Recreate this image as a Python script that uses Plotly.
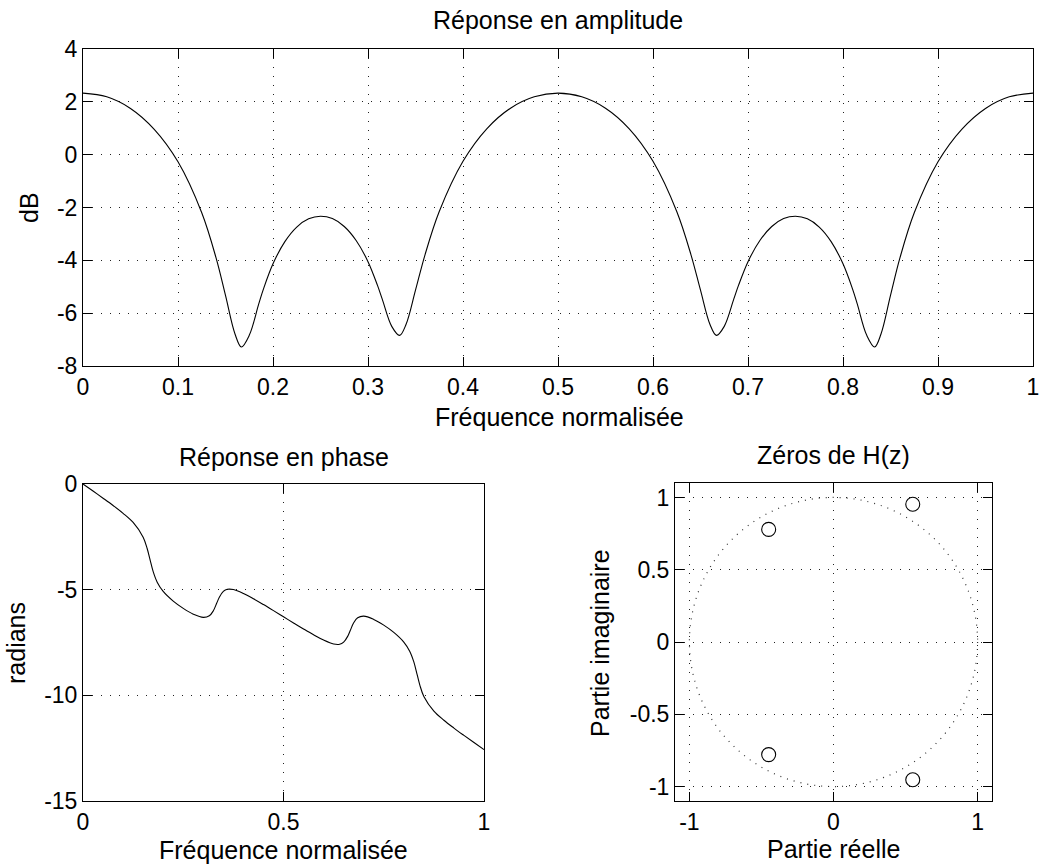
import plotly.graph_objects as go

# ---------------- data ----------------
freq_amp = [0, 0.025, 0.05, 0.075, 0.1, 0.125, 0.14, 0.15, 0.16, 0.1667, 0.175, 0.185, 0.19, 0.2,
            0.2125, 0.225, 0.2375, 0.25, 0.2625, 0.275, 0.2875, 0.3, 0.31, 0.315, 0.325, 0.3333,
            0.34, 0.35, 0.36, 0.375, 0.4, 0.425, 0.45, 0.475, 0.5,
            0.525, 0.55, 0.575, 0.6, 0.625, 0.64, 0.65, 0.66, 0.6667, 0.675, 0.685, 0.69, 0.7,
            0.7125, 0.725, 0.7375, 0.75, 0.7625, 0.775, 0.7875, 0.8, 0.81, 0.815, 0.825, 0.8333,
            0.84, 0.85, 0.86, 0.875, 0.9, 0.925, 0.95, 0.975, 1.0]
amp_db = [2.33, 2.19, 1.75, 0.96, -0.27, -2.20, -3.90, -5.33, -6.79, -7.28, -6.84, -5.65, -5.08, -4.13,
          -3.29, -2.74, -2.43, -2.33, -2.42, -2.72, -3.25, -4.05, -4.95, -5.47, -6.50, -6.84,
          -6.43, -5.13, -3.79, -2.15, -0.25, 0.98, 1.76, 2.19, 2.33,
          2.19, 1.76, 0.98, -0.25, -2.15, -3.79, -5.13, -6.43, -6.84, -6.50, -5.47, -4.95, -4.05,
          -3.25, -2.72, -2.42, -2.33, -2.43, -2.74, -3.29, -4.13, -5.08, -5.65, -6.84, -7.28,
          -6.79, -5.33, -3.90, -2.20, -0.27, 0.96, 1.75, 2.19, 2.33]

freq_phase = [0, 0.025, 0.05, 0.075, 0.1, 0.125, 0.15, 0.16, 0.1667, 0.175, 0.185, 0.2, 0.225,
              0.25, 0.275, 0.3, 0.315, 0.325, 0.3333, 0.34, 0.35, 0.36, 0.375, 0.4, 0.425, 0.45,
              0.475, 0.5, 0.525, 0.55, 0.575, 0.6, 0.625, 0.64, 0.65, 0.66, 0.6667, 0.675, 0.685,
              0.7, 0.725, 0.75, 0.775, 0.8, 0.815, 0.825, 0.8333, 0.84, 0.85, 0.875, 0.9, 0.925,
              0.95, 0.975, 1.0]
phase_rad = [0, -0.333, -0.671, -1.017, -1.387, -1.820, -2.514, -3.053, -3.547, -4.149, -4.645,
             -5.085, -5.543, -5.887, -6.159, -6.312, -6.236, -5.999, -5.647, -5.355, -5.081, -4.983,
             -4.996, -5.179, -5.430, -5.706, -5.992, -6.283, -6.574, -6.860, -7.136, -7.387, -7.570,
             -7.583, -7.485, -7.211, -6.919, -6.567, -6.330, -6.254, -6.407, -6.679, -7.023, -7.481,
             -7.921, -8.417, -9.019, -9.513, -10.052, -10.746, -11.179, -11.549, -11.896, -12.234,
             -12.566]

zeros_re = [0.55, 0.55, -0.45, -0.45]
zeros_im = [0.953, -0.953, 0.779, -0.779]

amp_xticks = [0, 0.1, 0.2, 0.3, 0.4, 0.5, 0.6, 0.7, 0.8, 0.9, 1]
amp_xlabels = ["0", "0.1", "0.2", "0.3", "0.4", "0.5", "0.6", "0.7", "0.8", "0.9", "1"]
amp_yticks = [4, 2, 0, -2, -4, -6, -8]
amp_ylabels = ["4", "2", "0", "-2", "-4", "-6", "-8"]
ph_xticks = [0, 0.5, 1]
ph_xlabels = ["0", "0.5", "1"]
ph_yticks = [0, -5, -10, -15]
ph_ylabels = ["0", "-5", "-10", "-15"]
z_xticks = [-1, 0, 1]
z_xlabels = ["-1", "0", "1"]
z_yticks = [1, 0.5, 0, -0.5, -1]
z_ylabels = ["1", "0.5", "0", "-0.5", "-1"]

# ---------------- figure ----------------
W, H = 1042, 868
FONT = "Liberation Sans, Arial, Helvetica, sans-serif"
TICK = 23
LAB = 25

fig = go.Figure()
fig.add_trace(go.Scatter(x=freq_amp, y=amp_db, mode="lines",
                         line=dict(color="black", width=1.1, shape="spline", smoothing=1.0),
                         xaxis="x", yaxis="y", showlegend=False, hoverinfo="skip"))
fig.add_trace(go.Scatter(x=freq_phase, y=phase_rad, mode="lines",
                         line=dict(color="black", width=1.1, shape="spline", smoothing=1.0),
                         xaxis="x2", yaxis="y2", showlegend=False, hoverinfo="skip"))
fig.add_trace(go.Scatter(x=zeros_re, y=zeros_im, mode="markers",
                         marker=dict(symbol="circle-open", size=14, color="black", line=dict(width=1.1)),
                         xaxis="x3", yaxis="y3", showlegend=False, hoverinfo="skip"))


def px(xp):
    return xp / W


def py(yp):
    return 1 - yp / H


axis_common = dict(showline=True, linecolor="black", linewidth=1, mirror="ticks", ticks="inside",
                   ticklen=9, tickcolor="black", tickwidth=1, showgrid=True, gridcolor="#222",
                   griddash="1px,8px", gridwidth=1, zeroline=False, tickmode="array",
                   automargin=False,
                   tickfont=dict(family=FONT, size=TICK, color="black"), fixedrange=True)

fig.update_layout(
    template="none",
    width=W, height=H, margin=dict(l=0, r=0, t=0, b=0, pad=0),
    paper_bgcolor="white", plot_bgcolor="white",
    font=dict(family=FONT, color="black"),
    xaxis=dict(axis_common, domain=[px(83), px(1033)], range=[0, 1], anchor="y",
               tickvals=amp_xticks, ticktext=amp_xlabels),
    yaxis=dict(axis_common, domain=[py(366), py(49)], range=[-8, 4], anchor="x",
               tickvals=amp_yticks, ticktext=amp_ylabels),
    xaxis2=dict(axis_common, domain=[px(83), px(484)], range=[0, 1], anchor="y2",
                tickvals=ph_xticks, ticktext=ph_xlabels),
    yaxis2=dict(axis_common, domain=[py(801), py(484)], range=[-15, 0], anchor="x2",
                tickvals=ph_yticks, ticktext=ph_ylabels),
    xaxis3=dict(axis_common, domain=[px(675), px(992)], range=[-1.1, 1.1], anchor="y3",
                tickvals=z_xticks, ticktext=z_xlabels),
    yaxis3=dict(axis_common, domain=[py(801), py(483)], range=[-1.1, 1.1], anchor="x3",
                tickvals=z_yticks, ticktext=z_ylabels),
)

# unit circle on the zeros plot
fig.add_shape(type="circle", xref="x3", yref="y3", x0=-1, y0=-1, x1=1, y1=1,
              line=dict(color="#333", width=1.2, dash="1px,6px"), layer="below")


def ann(text, x, y, angle=0, size=LAB):
    fig.add_annotation(text=text, x=px(x), y=py(y), xref="paper", yref="paper",
                       showarrow=False, textangle=angle, xanchor="center", yanchor="middle",
                       font=dict(family=FONT, size=size, color="black"))


ann("Réponse en amplitude", 558, 20)
ann("Fréquence normalisée", 559, 417)
ann("dB", 29, 208, -90)
ann("Réponse en phase", 283.5, 456.5)
ann("Fréquence normalisée", 283.5, 850)
ann("radians", 16, 643, -90)
ann("Zéros de H(z)", 833.5, 455.5)
ann("Partie réelle", 833.5, 849)
ann("Partie imaginaire", 600, 643, -90)

fig.write_html("out.html")
